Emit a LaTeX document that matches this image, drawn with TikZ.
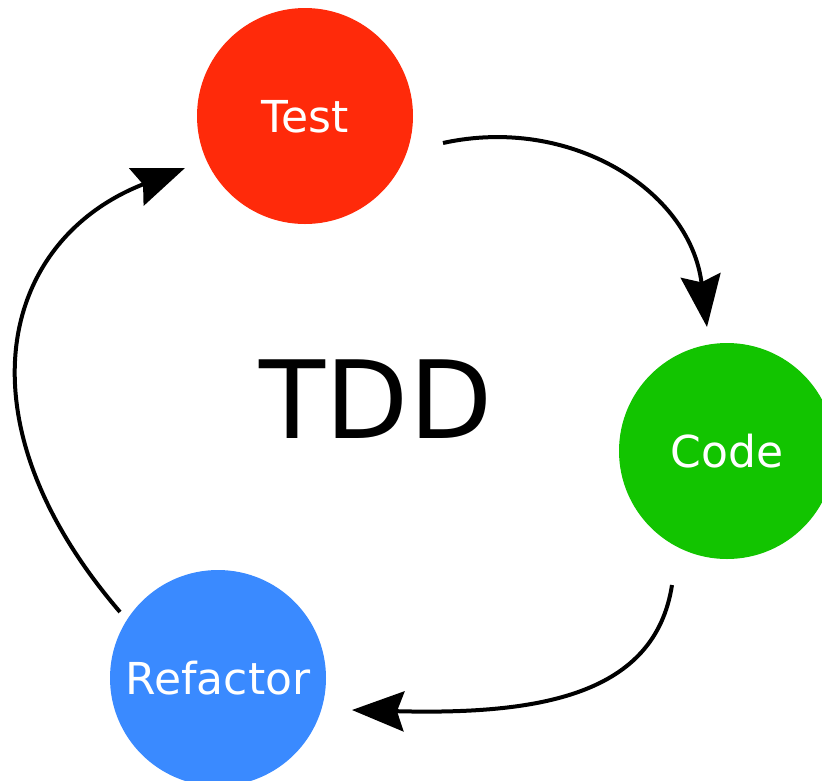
\documentclass[tikz,border=0pt]{standalone}
\usepackage{fontspec}
\setmainfont{DejaVu Sans}
\usetikzlibrary{arrows.meta}

\definecolor{testred}{RGB}{255,42,10}
\definecolor{codegreen}{RGB}{18,196,0}
\definecolor{refblue}{RGB}{58,138,255}

\tikzset{
  phase/.style={circle, minimum size=216pt, inner sep=0pt, text=white,
    font=\fontsize{44}{52}\selectfont, text height=32pt, text depth=0pt},
  cycle/.style={line width=4pt, -{Stealth[length=52pt,width=40pt,inset=7pt]}}
}

\begin{document}
\begin{tikzpicture}[x=1pt,y=-1pt]
  \useasboundingbox (0,0) rectangle (822,780);
  \clip (0,0) rectangle (822,780);

  % the three phases of the cycle
  \node[phase, fill=testred]   (test)     at (305,116) {Test};
  \node[phase, fill=codegreen] (code)     at (727,451) {Code};
  \node[phase, fill=refblue]   (refactor) at (218,678) {Refactor};

  % title in the middle
  \node[anchor=base, inner sep=0pt, font=\fontsize{108}{120}\selectfont] (tdd) at (376,438) {TDD};

  % arrow ends
  \coordinate (t-out) at (443,143);
  \coordinate (c-in)  at (707,327);
  \coordinate (c-out) at (672,585);
  \coordinate (r-in)  at (352,710);
  \coordinate (r-out) at (120,612);
  \coordinate (t-in)  at (185,168);

  \draw[cycle] (t-out) .. controls (570,115) and (690,190) .. (c-in);
  \draw[cycle] (c-out) .. controls (655,695) and (540,715) .. (r-in);
  \draw[cycle] (r-out) .. controls (-45,420) and (0,240) .. (t-in);
\end{tikzpicture}
\end{document}
